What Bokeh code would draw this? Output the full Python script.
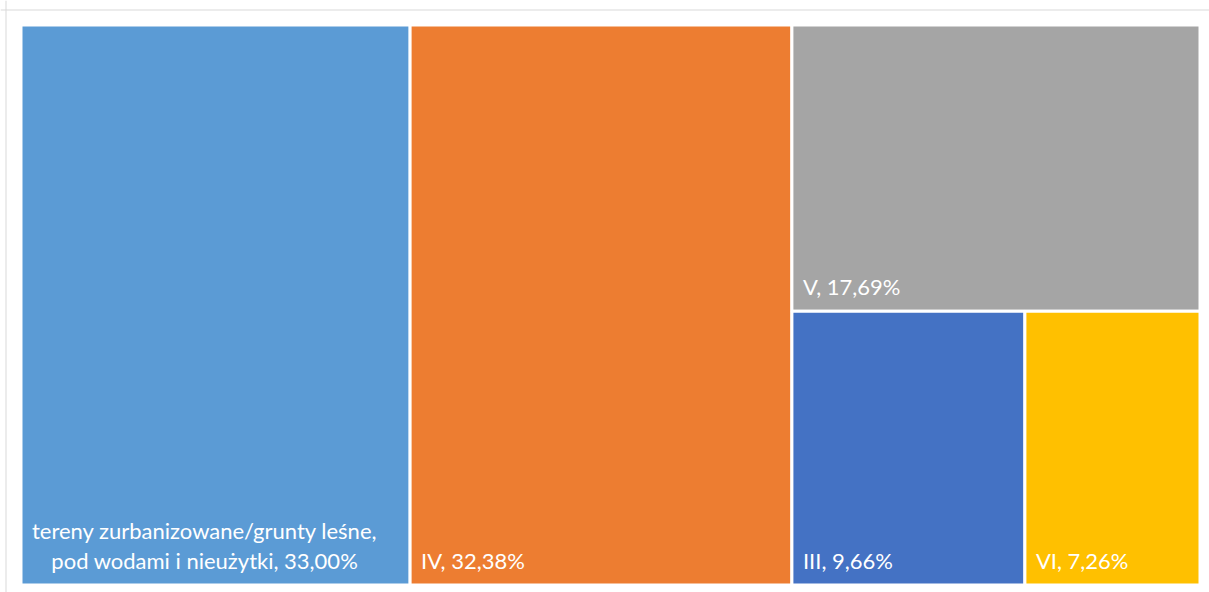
from bokeh.plotting import figure
from bokeh.models import Range1d, ColumnDataSource, Span
from bokeh.core.properties import value
from bokeh.embed import file_html
from bokeh.resources import INLINE

# ---- data ----
categories = ["tereny zurbanizowane/grunty leśne,\npod wodami i nieużytki", "IV", "V", "III", "VI"]
shares = [33.00, 32.38, 17.69, 9.66, 7.26]
colors = ["#5B9BD5", "#ED7D31", "#A5A5A5", "#4472C4", "#FFC000"]

# ---- layout (pixel-like units) ----
CW, CH = 1209, 592
W, H = 1179.0, 560.0
PAD_L, PAD_T = 20.5, 24.5
PAD_R = CW - PAD_L - W
PAD_B = CH - PAD_T - H


def worst(row, short):
    s = sum(row)
    return max(max(short * short * r / (s * s), (s * s) / (short * short * r)) for r in row)


def squarify(sizes, x, y, w, h):
    rects = []
    sizes = list(sizes)
    while sizes:
        short = min(w, h)
        row = [sizes[0]]
        i = 1
        while i < len(sizes) and worst(row + [sizes[i]], short) <= worst(row, short):
            row.append(sizes[i])
            i += 1
        s = sum(row)
        if w >= h:
            rw = s / h
            top = y + h
            for r in row:
                rh = r / rw
                rects.append((x, top - rh, x + rw, top))
                top -= rh
            x += rw
            w -= rw
        else:
            rh = s / w
            left = x
            for r in row:
                cw = r / rh
                rects.append((left, y + h - rh, left + cw, y + h))
                left += cw
            h -= rh
        sizes = sizes[i:]
    return rects


total = sum(shares)
areas = [v / total * W * H for v in shares]
rects = squarify(areas, 0.0, 0.0, W, H)

labels = [f"{c}, {v:.2f}%".replace(".", ",") for c, v in zip(categories, shares)]

src = ColumnDataSource(dict(
    left=[r[0] for r in rects], bottom=[r[1] for r in rects],
    right=[r[2] for r in rects], top=[r[3] for r in rects],
    color=colors,
    lx=[r[0] + 11 for r in rects], ly=[r[1] + 11 for r in rects],
    label=labels,
))

p = figure(width=CW, height=CH, output_backend="svg", toolbar_location=None,
           x_range=Range1d(-PAD_L, W + PAD_R), y_range=Range1d(-PAD_B, H + PAD_T),
           min_border=0)
p.axis.visible = False
p.grid.visible = False
p.outline_line_color = None
p.background_fill_color = "white"
p.border_fill_color = "white"

# chart-area border (left and top edges visible in the reference)
p.add_layout(Span(location=-PAD_L + 5.5, dimension="height", line_color="#D9D9D9", line_width=1))
p.add_layout(Span(location=H + PAD_T - 9.5, dimension="width", line_color="#D9D9D9", line_width=1))

p.quad(left="left", right="right", bottom="bottom", top="top", source=src,
       fill_color="color", line_color="white", line_width=3)

p.text(x="lx", y="ly", text="label", source=src, anchor="bottom_left",
       text_align="center", text_color="white", text_font=value("Lato"),
       text_font_size="22px", text_line_height=1.1)

open("out.html", "w").write(file_html(p, INLINE))
